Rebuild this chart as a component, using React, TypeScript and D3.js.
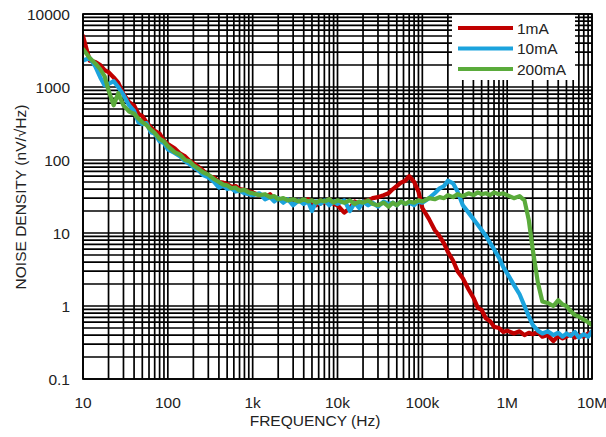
import React from "react";
import * as d3 from "d3";

const W = 606;
const H = 437;

const freq = [
  10, 12, 14, 16, 18, 20, 23, 26, 30, 35, 40, 45, 50, 56, 63, 70, 80, 90,
  100, 120, 140, 160, 180, 200, 230, 260, 300, 350, 400, 450, 500, 560, 630, 700, 800, 900,
  1e3, 1.2e3, 1.4e3, 1.6e3, 1.8e3, 2e3, 2.3e3, 2.6e3, 3e3, 3.5e3, 4e3, 4.5e3, 5e3, 5.6e3, 6.3e3, 7e3, 8e3, 9e3,
  1e4, 1.2e4, 1.4e4, 1.6e4, 1.8e4, 2e4, 2.3e4, 2.6e4, 3e4, 3.5e4, 4e4, 4.5e4, 5e4, 5.6e4, 6.3e4, 7e4, 8e4, 9e4,
  1e5, 1.2e5, 1.4e5, 1.6e5, 1.8e5, 2e5, 2.3e5, 2.6e5, 3e5, 3.5e5, 4e5, 4.5e5, 5e5, 5.6e5, 6.3e5, 7e5, 8e5, 9e5,
  1e6, 1.2e6, 1.4e6, 1.6e6, 1.8e6, 2e6, 2.3e6, 2.6e6, 3e6, 3.5e6, 4e6, 4.5e6, 5e6, 5.6e6, 6.3e6, 7e6, 8e6, 9e6,
  1e7,
];

const noise1mA = [
  5000, 2300, 2200, 2000, 1700, 1600, 1350, 1150, 800, 620, 560, 430, 400, 330, 280, 250, 230, 185,
  165, 145, 122, 112, 98, 90, 80, 72, 60, 58, 50, 49, 47, 43, 44, 40, 39, 37,
  36, 33, 31, 34, 29, 30, 27, 29, 25, 28, 26, 29, 27, 24, 28, 26, 29, 25,
  24, 19, 22, 27, 25, 27, 28, 30, 31, 33, 35, 40, 44, 49, 52, 60, 50, 37,
  22, 15.5, 11, 9, 7.2, 5.5, 4.2, 3.0, 2.4, 1.7, 1.3, 0.95, 0.88, 0.68, 0.62, 0.52, 0.5, 0.44,
  0.46, 0.42, 0.45, 0.4, 0.43, 0.41, 0.44, 0.38, 0.4, 0.33, 0.39, 0.36, 0.38, 0.41, 0.37, 0.4, 0.38, 0.42,
  0.44,
];

const noise10mA = [
  2300, 2500, 1900, 1350, 1050, 1100, 1200, 1000, 780, 560, 470, 330, 310, 320, 240, 230, 180, 170,
  140, 125, 112, 96, 88, 80, 72, 62, 58, 50, 42, 45, 40, 41, 37, 38, 35, 34,
  33, 35, 29, 31, 27, 30, 26, 29, 24, 28, 25, 27, 20, 27, 25, 28, 24, 27,
  25, 28, 20, 26, 22, 27, 24, 26, 23, 27, 25, 26, 24, 27, 25, 26, 24, 27,
  26, 30, 35, 41, 44, 52, 48, 37, 24, 19, 15.5, 13, 11, 9.2, 7.3, 6.0, 4.6, 3.4,
  2.8, 1.95, 1.45, 1.0, 0.72, 0.55, 0.46, 0.42, 0.45, 0.4, 0.43, 0.38, 0.42, 0.39, 0.44, 0.37, 0.41, 0.38,
  0.45,
];

const noise200mA = [
  3300, 2500, 2100, 1750, 1400, 900, 560, 820, 560, 460, 430, 370, 330, 300, 260, 235, 195, 180,
  155, 128, 118, 100, 96, 85, 76, 68, 63, 55, 50, 46, 45, 41, 42, 38, 39, 36,
  35, 33, 34, 31, 32, 29, 30, 28, 29, 27, 29, 27, 28, 26, 28, 27, 29, 26,
  28, 26, 28, 25, 27, 26, 28, 25, 24, 26, 23, 26, 24, 27, 25, 27, 26, 28,
  27, 30, 29, 31, 30, 33, 31, 34, 32, 35, 33, 36, 34, 35, 33, 36, 34, 35,
  33, 30, 32, 28, 15, 6, 2.1, 1.15, 1.1, 1.0, 1.2, 1.05, 1.0, 0.85, 0.75, 0.72, 0.65, 0.6,
  0.55,
];

const seriesNames = ["1mA", "10mA", "200mA"];
const seriesValues = [noise1mA, noise10mA, noise200mA];
const seriesColors = ["#C00000", "#1BA3DD", "#5AAB3B"];

const xTickValues = [10, 100, 1e3, 1e4, 1e5, 1e6, 1e7];
const xTickLabels = ["10", "100", "1k", "10k", "100k", "1M", "10M"];
const yTickValues = [0.1, 1, 10, 100, 1000, 10000];
const yTickLabels = ["0.1", "1", "10", "100", "1000", "10000"];

const FONT = "'Liberation Sans', Arial, sans-serif";

export default function App() {
  const left = 83, right = 592, top = 14, bottom = 379;
  const x = d3.scaleLog().domain([10, 1e7]).range([left, right]);
  const y = d3.scaleLog().domain([0.1, 1e4]).range([bottom, top]);
  const xGrid = x.ticks();
  const yGrid = y.ticks();

  const line = d3
    .line<number>()
    .x((_, i) => x(freq[i]))
    .y((d) => y(d));

  return (
    <svg
      width={W}
      height={H}
      style={{ position: "absolute", left: 0, top: 0, background: "#fff" }}
      fontFamily={FONT}
    >
      <rect x={0} y={0} width={W} height={H} fill="#fff" />
      <defs>
        <clipPath id="plot">
          <rect x={left} y={top} width={right - left} height={bottom - top} />
        </clipPath>
      </defs>
      <g stroke="#000" strokeWidth={1.7}>
        {xGrid.map((v, i) => (
          <line key={"xg" + i} x1={x(v)} x2={x(v)} y1={top} y2={bottom} />
        ))}
        {yGrid.map((v, i) => (
          <line key={"yg" + i} x1={left} x2={right} y1={y(v)} y2={y(v)} />
        ))}
      </g>
      <g clipPath="url(#plot)">
        {seriesValues.map((vals, i) => (
          <path
            key={seriesNames[i]}
            d={line(vals) || ""}
            fill="none"
            stroke={seriesColors[i]}
            strokeWidth={4.2}
            strokeLinejoin="round"
            strokeLinecap="round"
          />
        ))}
      </g>
      <rect x={452} y={top} width={123} height={66} fill="#fff" />
      <rect x={left} y={top} width={right - left} height={bottom - top} fill="none" stroke="#000" strokeWidth={1.7} />
      {seriesNames.map((n, i) => (
        <g key={"lg" + n}>
          <line x1={458} x2={513} y1={28 + i * 20.5} y2={28 + i * 20.5} stroke={seriesColors[i]} strokeWidth={4} />
          <text x={517} y={28 + i * 20.5 + 5.5} fontSize={15.5} fill="#222">
            {n}
          </text>
        </g>
      ))}
      {xTickValues.map((v, i) => (
        <text key={"xt" + i} x={x(v)} y={408} textAnchor="middle" fontSize={15.5} fill="#222">
          {xTickLabels[i]}
        </text>
      ))}
      {yTickValues.map((v, i) => (
        <text key={"yt" + i} x={70} y={y(v) + 5.5} textAnchor="end" fontSize={15.5} fill="#222">
          {yTickLabels[i]}
        </text>
      ))}
      <text x={315} y={425.5} textAnchor="middle" fontSize={15.5} fill="#222">
        FREQUENCY (Hz)
      </text>
      <text
        transform={`translate(26,197) rotate(-90)`}
        textAnchor="middle"
        fontSize={15.5}
        fill="#222"
      >
        NOISE DENSITY (nV/√Hz)
      </text>
    </svg>
  );
}
